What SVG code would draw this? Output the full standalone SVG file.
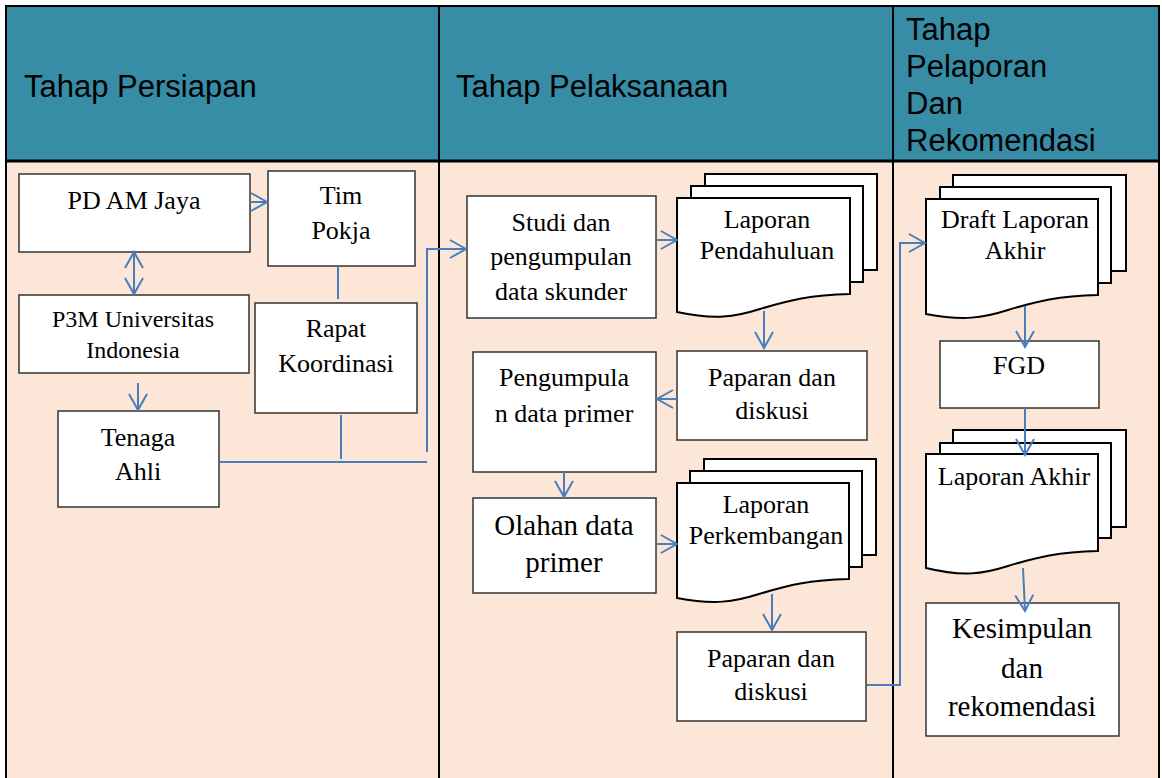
<svg xmlns="http://www.w3.org/2000/svg" width="1162" height="778" viewBox="0 0 1162 778">
<style>
.hdr{fill:#378CA6}
.body{fill:#FCE6D8}
.grid{stroke:#000;stroke-width:2;fill:none}
.ht{font-family:"Liberation Sans",Arial,sans-serif;font-size:31px;fill:#000}
.box{fill:#fff;stroke:#333;stroke-width:1.5}
.doc{fill:#fff;stroke:#000;stroke-width:2}
.t{font-family:"Liberation Serif","Times New Roman",serif;font-size:26px;fill:#000;text-anchor:middle}
.t24{font-size:24px}
.t29{font-size:29px}
.c{fill:none;stroke:#4A7EBB;stroke-width:2}
.a{marker-end:url(#arr)}
</style>
<defs>
<marker id="arr" markerUnits="userSpaceOnUse" markerWidth="20" markerHeight="22" viewBox="-1 -11 18 22" refX="16" refY="0" orient="auto-start-reverse">
<path d="M0,-9 L16,0 L0,9" fill="none" stroke="#4A7EBB" stroke-width="2"/>
</marker>
</defs>

<g id="table">
<rect x="6" y="6" width="1153" height="155" class="hdr"/>
<rect x="6" y="161" width="1153" height="617" class="body"/>
<path class="grid" d="M6,778 V6 H1159 V778"/>
<path d="M6,161 H1159" stroke="#000" stroke-width="3"/>
<path class="grid" d="M439,6 V778 M893,6 V778"/>
<text class="ht" x="24" y="97">Tahap Persiapan</text>
<text class="ht" x="456" y="97">Tahap Pelaksanaan</text>
<text class="ht" x="906" y="40">Tahap</text>
<text class="ht" x="906" y="77">Pelaporan</text>
<text class="ht" x="906" y="114">Dan</text>
<text class="ht" x="906" y="151">Rekomendasi</text>
</g>

<g id="pd-am-jaya">
<rect class="box" x="19" y="174" width="231" height="78"/>
<text class="t" x="134" y="209">PD AM Jaya</text>
</g>
<g id="tim-pokja">
<rect class="box" x="268" y="171" width="147" height="95"/>
<text class="t" x="341" y="204">Tim</text>
<text class="t" x="341" y="239">Pokja</text>
</g>
<g id="p3m">
<rect class="box" x="19" y="295" width="230" height="78"/>
<text class="t t24" x="133" y="327">P3M Universitas</text>
<text class="t t24" x="133" y="358">Indonesia</text>
</g>
<g id="rapat-koordinasi">
<rect class="box" x="255" y="303" width="162" height="110"/>
<text class="t" x="336" y="337">Rapat</text>
<text class="t" x="336" y="372">Koordinasi</text>
</g>
<g id="tenaga-ahli">
<rect class="box" x="58" y="411" width="161" height="96"/>
<text class="t" x="138" y="446">Tenaga</text>
<text class="t" x="138" y="480">Ahli</text>
</g>

<g id="studi">
<rect class="box" x="467" y="196" width="189" height="122"/>
<text class="t" x="561" y="231">Studi dan</text>
<text class="t" x="561" y="265">pengumpulan</text>
<text class="t" x="561" y="300">data skunder</text>
</g>
<g id="laporan-pendahuluan">
<rect class="doc" x="705" y="174" width="172" height="96"/>
<rect class="doc" x="691" y="186" width="172" height="96"/>
<path class="doc" d="M677,198 H850 V294 C810,295 790,300 760,309 C735,317 715,320 677,312 Z"/>
<text class="t" x="767" y="228">Laporan</text>
<text class="t" x="767" y="259">Pendahuluan</text>
</g>
<g id="paparan-1">
<rect class="box" x="677" y="351" width="190" height="89"/>
<text class="t" x="772" y="386">Paparan dan</text>
<text class="t" x="772" y="419">diskusi</text>
</g>
<g id="pengumpulan-primer">
<rect class="box" x="473" y="352" width="183" height="120"/>
<text class="t" x="564" y="386">Pengumpula</text>
<text class="t" x="564" y="422">n data primer</text>
</g>
<g id="olahan">
<rect class="box" x="473" y="498" width="183" height="95"/>
<text class="t t29" x="564" y="535">Olahan data</text>
<text class="t t29" x="564" y="572">primer</text>
</g>
<g id="laporan-perkembangan">
<rect class="doc" x="704" y="459" width="172" height="96"/>
<rect class="doc" x="690" y="471" width="172" height="96"/>
<path class="doc" d="M677,483 H849 V579 C809,580 789,585 759,594 C734,602 714,605 677,598 Z"/>
<text class="t" x="766" y="513">Laporan</text>
<text class="t" x="766" y="544">Perkembangan</text>
</g>
<g id="paparan-2">
<rect class="box" x="677" y="632" width="189" height="89"/>
<text class="t" x="771" y="667">Paparan dan</text>
<text class="t" x="771" y="700">diskusi</text>
</g>

<g id="draft-laporan-akhir">
<rect class="doc" x="953" y="175" width="173" height="96"/>
<rect class="doc" x="940" y="187" width="171" height="96"/>
<path class="doc" d="M926,199 H1098 V295 C1058,296 1038,301 1008,310 C983,318 963,321 926,314 Z"/>
<text class="t" x="1015" y="228">Draft Laporan</text>
<text class="t" x="1015" y="259">Akhir</text>
</g>
<g id="fgd">
<rect class="box" x="940" y="341" width="159" height="67"/>
<text class="t" x="1019" y="374">FGD</text>
</g>
<g id="laporan-akhir">
<rect class="doc" x="953" y="430" width="173" height="97"/>
<rect class="doc" x="940" y="443" width="171" height="95"/>
<path class="doc" d="M926,454 H1098 V551 C1058,552 1038,557 1008,566 C983,574 963,577 926,568 Z"/>
<text class="t" x="1014" y="485">Laporan Akhir</text>
</g>
<g id="kesimpulan">
<rect class="box" x="926" y="603" width="193" height="133"/>
<text class="t t29" x="1022" y="638">Kesimpulan</text>
<text class="t t29" x="1022" y="678">dan</text>
<text class="t t29" x="1022" y="716">rekomendasi</text>
</g>

<g id="connectors">
<path class="c a" d="M250,202 H267"/>
<path class="c" d="M134,252 V294" marker-start="url(#arr)" marker-end="url(#arr)"/>
<path class="c a" d="M138,383 V410"/>
<path class="c" d="M338,266 V299"/>
<path class="c" d="M341,415 V459"/>
<path class="c" d="M219,462 H427"/>
<path class="c a" d="M427,452 V249 H466"/>
<path class="c a" d="M656,240 H677"/>
<path class="c a" d="M764,311 V348"/>
<path class="c a" d="M677,399 H657"/>
<path class="c a" d="M564,472 V497"/>
<path class="c a" d="M656,544 H677"/>
<path class="c a" d="M772,594 V630"/>
<path class="c a" d="M867,685 H900 V243 H925"/>
<path class="c a" d="M1025,306 V347"/>
<path class="c a" d="M1025,408 V455"/>
<path class="c a" d="M1023,568 L1025,611"/>
</g>
</svg>
